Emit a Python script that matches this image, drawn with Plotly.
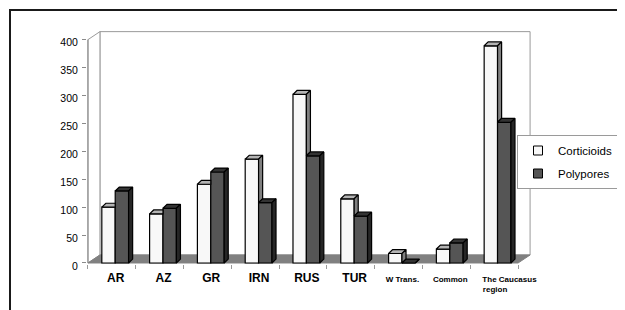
import plotly.graph_objects as go

# ---- data ----
categories = ["AR", "AZ", "GR", "IRN", "RUS", "TUR", "W Trans.", "Common", "The Caucasus region"]
BIG = "<span style='font-size:12px'>{}</span>"
tick_labels = [BIG.format("AR"), BIG.format("AZ"), BIG.format("GR"), BIG.format("IRN"),
               BIG.format("RUS"), BIG.format("TUR"),
               "W Trans.", "Common",
               "The Caucasus<br>region" + "\u00a0" * 13]
corticioids = [100, 88, 141, 186, 302, 115, 17, 25, 389]
polypores = [129, 98, 163, 108, 192, 84, 0, 36, 252]
value_ticks = [0, 50, 100, 150, 200, 250, 300, 350, 400]

# ---- geometry / style (page has an 8px body margin) ----
W, H = 625, 310
ML, MT = 79, 23
PW, PH = 444, 233
MR, MB = W - ML - PW, H - MT - PH
XR = [-0.52, 8.77]
YR = [-1.8, 415.5]
DXW, DYW = 0.251, 14.35      # wall depth (data units)
DXB, DYB = 0.085, 7.0        # bar depth
BW = 0.28
OFF_W, OFF_G = -0.21, 0.07
YMAX = 400
n = len(categories)

fig = go.Figure()

# front faces
fig.add_trace(go.Bar(x=list(range(n)), y=corticioids, width=BW, offset=OFF_W,
                     marker=dict(color="#f8f8f8", line=dict(color="black", width=1.2)),
                     showlegend=False, hoverinfo="skip"))
fig.add_trace(go.Bar(x=list(range(n)), y=polypores, width=BW, offset=OFF_G,
                     marker=dict(color="#555555", line=dict(color="black", width=1.2)),
                     showlegend=False, hoverinfo="skip"))


def poly_trace(polys, color):
    xs, ys = [], []
    for p in polys:
        for (a, b) in p + [p[0]]:
            xs.append(a)
            ys.append(b)
        xs.append(None)
        ys.append(None)
    return go.Scatter(x=xs, y=ys, mode="lines", fill="toself", fillcolor=color,
                      line=dict(color="black", width=1.2), showlegend=False,
                      hoverinfo="skip")


w_top, w_side, g_top, g_side = [], [], [], []
for i in range(n):
    hw, hg = corticioids[i], polypores[i]
    x0 = i + OFF_W
    x1 = x0 + BW
    x2 = x1 + BW
    if hg >= hw:
        w_top.append([(x0, hw), (x0 + DXB, hw + DYB), (x1, hw + DYB), (x1, hw)])
    else:
        w_top.append([(x0, hw), (x0 + DXB, hw + DYB), (x1 + DXB, hw + DYB), (x1, hw)])
        w_side.append([(x1, hg), (x1 + DXB, hg + DYB), (x1 + DXB, hw + DYB), (x1, hw)])
    g_top.append([(x1, hg), (x1 + DXB, hg + DYB), (x2 + DXB, hg + DYB), (x2, hg)])
    g_side.append([(x2, 0), (x2 + DXB, DYB), (x2 + DXB, hg + DYB), (x2, hg)])

fig.add_trace(poly_trace(w_top, "#b4b4b4"))
fig.add_trace(poly_trace(w_side, "#808080"))
fig.add_trace(poly_trace(g_top, "#333333"))
fig.add_trace(poly_trace(g_side, "#262626"))

# legend entries
fig.add_trace(go.Scatter(x=[None], y=[None], mode="markers", name="Corticioids",
                         legendgroup="a",
                         marker=dict(symbol="square", size=9, color="#f8f8f8",
                                     line=dict(color="black", width=1))))
fig.add_trace(go.Scatter(x=[None], y=[None], mode="markers", name="Polypores",
                         legendgroup="b",
                         marker=dict(symbol="square", size=9, color="#555555",
                                     line=dict(color="black", width=1))))

shapes = []
# back wall
shapes.append(dict(type="rect", xref="x", yref="y", layer="below",
                   x0=-0.5 + DXW, x1=n - 0.5 + DXW, y0=DYW, y1=YMAX + DYW,
                   fillcolor="white", line=dict(color="#9a9a9a", width=1)))
# left wall
shapes.append(dict(type="path", xref="x", yref="y", layer="below",
                   path=f"M{-0.5},{0} L{-0.5 + DXW},{DYW} L{-0.5 + DXW},{YMAX + DYW} L{-0.5},{YMAX} Z",
                   fillcolor="white", line=dict(color="#9a9a9a", width=1)))
# floor
shapes.append(dict(type="path", xref="x", yref="y", layer="below",
                   path=f"M{-0.5},{0} L{n - 0.5},{0} L{n - 0.5 + DXW},{DYW} L{-0.5 + DXW},{DYW} Z",
                   fillcolor="#808080", line=dict(color="#808080", width=1)))
# value axis line
shapes.append(dict(type="line", xref="x", yref="y", layer="below",
                   x0=-0.5, x1=-0.5, y0=0, y1=YMAX, line=dict(color="#8a8a8a", width=1)))
# outer frame (window px 10,10 -> figure px 2,2)
shapes.append(dict(type="rect", xref="paper", yref="paper",
                   x0=(2 - ML) / PW, x1=(660 - ML) / PW,
                   y0=(MT + PH - 340) / PH, y1=(MT + PH - 2) / PH,
                   fillcolor="rgba(0,0,0,0)", line=dict(color="#1a1a1a", width=2)))

tickvals = [i + 0.08 for i in range(n)]
tickvals[-1] = n - 1 + 0.32

fig.update_layout(
    width=W, height=H,
    margin=dict(l=ML, r=MR, t=MT, b=MB, pad=0, autoexpand=False),
    paper_bgcolor="white", plot_bgcolor="white",
    barmode="overlay",
    shapes=shapes,
    font=dict(family="Liberation Sans, Arial, sans-serif", color="black"),
    xaxis=dict(range=XR, showgrid=False, zeroline=False, showline=False,
               automargin=False,
               tickmode="array", tickvals=tickvals, ticktext=tick_labels,
               ticks="", tickangle=0, ticklabelstandoff=9,
               tickfont=dict(size=8, weight="bold", family="Liberation Sans, Arial, sans-serif"),
               minor=dict(tickmode="linear", tick0=-0.5, dtick=1, ticks="outside",
                          ticklen=4, tickcolor="#9a9a9a", showgrid=False)),
    yaxis=dict(range=YR, showgrid=False, zeroline=False, showline=False,
               automargin=False,
               tickmode="array", tickvals=value_ticks,
               ticks="outside", ticklen=4, tickcolor="#8a8a8a",
               ticklabelstandoff=2, ticklabelshift=3,
               tickfont=dict(size=10.5)),
    legend=dict(x=(509 - ML) / PW, y=(MT + PH - 127) / PH,
                xanchor="left", yanchor="top",
                bordercolor="#9a9a9a", borderwidth=1, bgcolor="white",
                font=dict(size=11.5), traceorder="grouped", tracegroupgap=4),
    hovermode=False,
)

fig.write_html("out.html")
